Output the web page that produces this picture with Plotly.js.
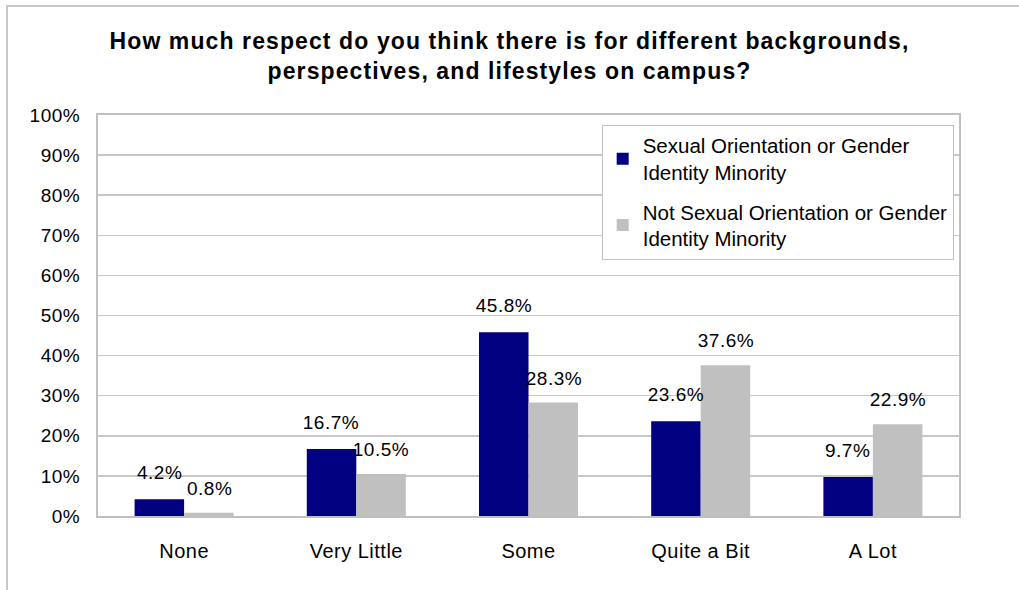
<!DOCTYPE html>
<html>
<head>
<meta charset="utf-8">
<script src="https://cdn.plot.ly/plotly-3.0.1.min.js"></script>
<style>
html,body{margin:0;padding:0;background:#fff;}
#frame{position:absolute;left:6px;top:5px;width:1100px;height:700px;border-top:2px solid #c8c8c8;border-left:2px solid #c8c8c8;box-sizing:border-box;pointer-events:none;z-index:5;}
#chart{position:absolute;left:0;top:0;width:1019px;height:590px;}
#chart text{letter-spacing:0.5px;}
#chart .gtitle{letter-spacing:1.1px;}
#chart .legend text{letter-spacing:0px;}
</style>
</head>
<body>
<div id="chart"></div>
<div id="frame"></div>
<script>
const categories = ["None", "Very Little", "Some", "Quite a Bit", "A Lot"];
const minorityValues = [4.2, 16.7, 45.8, 23.6, 9.7];
const notMinorityValues = [0.8, 10.5, 28.3, 37.6, 22.9];
const seriesNames = ["Sexual Orientation or Gender<br>Identity Minority", "Not Sexual Orientation or Gender<br>Identity Minority"];
const yTickVals = [0,10,20,30,40,50,60,70,80,90,100];
const yTickText = yTickVals.map(v => v + "%");

const font = "Liberation Sans, Arial, sans-serif";
const fmt = v => v.toFixed(1) + "%";

const traces = [
  {type:"bar", x:categories, y:minorityValues, name:seriesNames[0], legendgroup:"a",
   marker:{color:"#000080"}, hoverinfo:"none"},
  {type:"bar", x:categories, y:notMinorityValues, name:seriesNames[1], legendgroup:"b",
   marker:{color:"#c0c0c0"}, hoverinfo:"none"}
];

const barOffset = 25;
const annotations = [];
categories.forEach((c, i) => {
  annotations.push({x:c, y:minorityValues[i], xref:"x", yref:"y", text:fmt(minorityValues[i]),
    showarrow:false, xanchor:"center", yanchor:"bottom", xshift:-barOffset, yshift:14,
    font:{family:font,size:19,color:"#000"}});
  annotations.push({x:c, y:notMinorityValues[i], xref:"x", yref:"y", text:fmt(notMinorityValues[i]),
    showarrow:false, xanchor:"center", yanchor:"bottom", xshift:barOffset, yshift:12,
    font:{family:font,size:19,color:"#000"}});
});

const layout = {
  width:1019, height:590,
  margin:{l:98, r:60, t:115, b:74},
  paper_bgcolor:"#fff", plot_bgcolor:"#fff",
  font:{family:font, size:19, color:"#000"},
  title:{text:"<b>How much respect do you think there is for different backgrounds,<br>perspectives, and lifestyles on campus?</b>",
    x:0.5, xanchor:"center", xref:"container", y:0.917, yanchor:"top", yref:"container",
    font:{family:font, size:23, color:"#000"}},
  barmode:"group", bargap:0.425, bargroupgap:0,
  xaxis:{showgrid:false, zeroline:false, showline:true, linecolor:"#c0c0c0", linewidth:2, mirror:true,
    ticks:"", tickfont:{family:font,size:20}, ticklabelstandoff:16, fixedrange:true},
  yaxis:{range:[0,100], tickvals:yTickVals, ticktext:yTickText, showgrid:true, gridcolor:"#c8c8c8", gridwidth:1.5,
    zeroline:false, showline:true, linecolor:"#c0c0c0", linewidth:2, mirror:true,
    ticks:"", tickfont:{family:font,size:19}, ticklabelstandoff:12, fixedrange:true},
  annotations: annotations,
  showlegend:true,
  legend:{x:0.585, y:0.976, xanchor:"left", yanchor:"top", bgcolor:"#fff", bordercolor:"#c0c0c0", borderwidth:1,
    font:{family:font,size:20.5}, tracegroupgap:10, traceorder:"grouped"}
};

Plotly.newPlot("chart", traces, layout, {displayModeBar:false, staticPlot:true});
</script>
</body>
</html>
